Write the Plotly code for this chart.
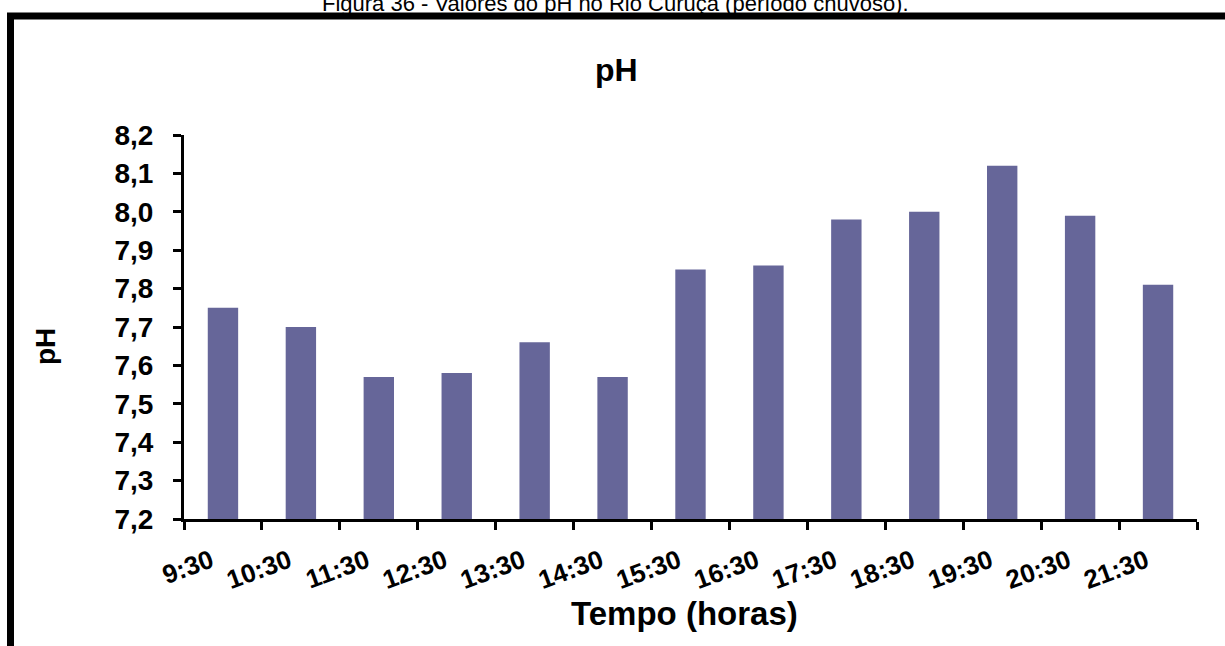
import plotly.graph_objects as go

categories = ["9:30", "10:30", "11:30", "12:30", "13:30", "14:30", "15:30",
              "16:30", "17:30", "18:30", "19:30", "20:30", "21:30"]
ph_values = [7.75, 7.70, 7.57, 7.58, 7.66, 7.57, 7.85, 7.86, 7.98, 8.00, 8.12, 7.99, 7.81]
y_ticks = [7.2, 7.3, 7.4, 7.5, 7.6, 7.7, 7.8, 7.9, 8.0, 8.1, 8.2]

W, H = 1225, 646
L, R, T, B = 184, 28, 135, 127
PW, PH = W - L - R, H - T - B

def px(x):
    return (x - L) / PW

def py(y):
    return (H - B - y) / PH

FONT = "Liberation Sans, Arial, sans-serif"

fig = go.Figure(go.Bar(x=categories, y=ph_values, marker=dict(color="#666699", line=dict(width=0)),
                       width=0.39))

fig.update_layout(
    width=W, height=H,
    margin=dict(l=L, r=R, t=T, b=B),
    paper_bgcolor="white", plot_bgcolor="white",
    separators=",.",
    showlegend=False,
    font=dict(family=FONT, color="black"),
)

fig.update_yaxes(
    range=[7.2, 8.2], tickvals=y_ticks, tickformat=".1f",
    showgrid=False, zeroline=False,
    showline=True, linecolor="black", linewidth=3,
    ticks="outside", ticklen=8, tickwidth=3, tickcolor="black",
    tickfont=dict(family=FONT, size=28, color="black", weight="bold"),
    ticklabelstandoff=14,
)
fig.update_xaxes(
    showgrid=False, zeroline=False,
    showline=True, linecolor="black", linewidth=3,
    ticks="outside", ticklen=8, tickwidth=3, tickcolor="black",
    tickson="boundaries",
    tickangle=-20,
    tickfont=dict(family=FONT, size=26, color="black", weight="bold"),
    ticklabelshift=-12,
    ticklabelstandoff=14,
)

annotations = [
    dict(text="<b>pH</b>", x=px(616), y=py(70), xref="paper", yref="paper",
         showarrow=False, font=dict(family=FONT, size=32, color="black"),
         xanchor="center", yanchor="middle"),
    dict(text="<b>pH</b>", x=px(45), y=py(347), xref="paper", yref="paper",
         showarrow=False, textangle=-90, font=dict(family=FONT, size=28, color="black"),
         xanchor="center", yanchor="middle"),
    dict(text="<b>Tempo (horas)</b>", x=px(684), y=py(613), xref="paper", yref="paper",
         showarrow=False, font=dict(family=FONT, size=33, color="black"),
         xanchor="center", yanchor="middle"),
    dict(text="Figura 36 - Valores do pH no Rio Curuçá (período chuvoso).",
         x=px(615), y=py(3), xref="paper", yref="paper",
         showarrow=False, font=dict(family=FONT, size=22, color="black"),
         xanchor="center", yanchor="middle"),
]
fig.update_layout(annotations=annotations)

fig.add_shape(type="rect", xref="paper", yref="paper",
              x0=px(10.5), x1=px(1260), y0=py(680), y1=py(16),
              line=dict(color="black", width=7), fillcolor="rgba(0,0,0,0)", layer="above")

fig.write_html("out.html", config={"displayModeBar": False},
               post_script="document.body.style.margin='0px';")
